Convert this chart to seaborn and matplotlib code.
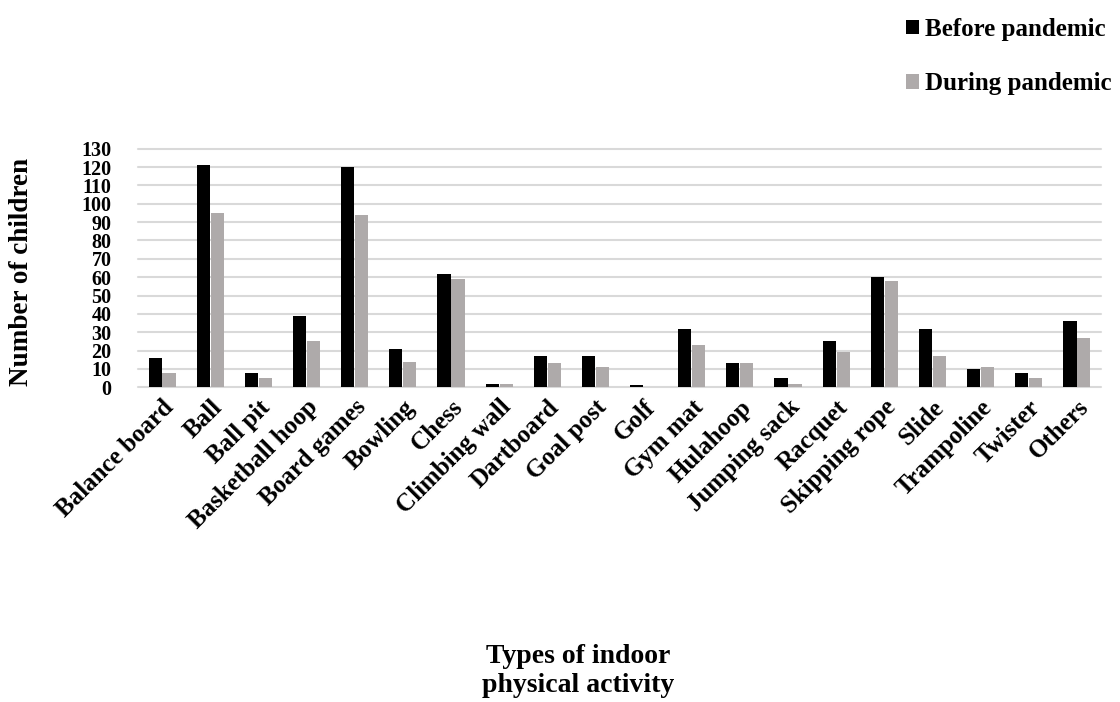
import matplotlib
matplotlib.use("Agg")
import matplotlib.pyplot as plt
import seaborn as sns
import pandas as pd

categories = ["Balance board", "Ball", "Ball pit", "Basketball hoop", "Board games",
              "Bowling", "Chess", "Climbing wall", "Dartboard", "Goal post", "Golf",
              "Gym mat", "Hulahoop", "Jumping sack", "Racquet", "Skipping rope",
              "Slide", "Trampoline", "Twister", "Others"]
before = [16, 121, 8, 39, 120, 21, 62, 2, 17, 17, 1, 32, 13, 5, 25, 60, 32, 10, 8, 36]
during = [8, 95, 5, 25, 94, 14, 59, 2, 13, 11, 0, 23, 13, 2, 19, 58, 17, 11, 5, 27]
series = ["Before pandemic", "During pandemic"]
yticks = list(range(0, 131, 10))

df = pd.DataFrame({
    "Activity": categories * 2,
    "Period": [series[0]] * len(categories) + [series[1]] * len(categories),
    "Count": before + during,
})

sns.set_theme(style="white")
plt.rcParams['font.family'] = ['Liberation Serif', 'DejaVu Serif']
plt.rcParams['font.weight'] = 'bold'
plt.rcParams['text.color'] = 'black'
plt.rcParams['xtick.color'] = 'black'
plt.rcParams['ytick.color'] = 'black'

fig = plt.figure(figsize=(11.2, 7.02), dpi=100)
ax = fig.add_axes([138/1120, 1-387.3/702, (1101-138)/1120, (387.3-148.7)/702])

sns.barplot(data=df, x="Activity", y="Count", hue="Period",
            palette=["#000000", "#aeaaaa"], width=0.58, gap=0.06,
            ax=ax, legend=True, saturation=1, linewidth=0)

ax.set_ylim(0, 130)
ax.set_yticks(yticks)
ax.set_yticklabels([str(t) for t in yticks], fontsize=14.5, fontweight='bold')
ax.yaxis.grid(True, color="#d9d9d9", linewidth=1.5)
ax.set_axisbelow(True)
for g in ax.get_ygridlines():
    g.set_clip_on(False)
for s in ax.spines.values():
    s.set_visible(False)
ax.tick_params(axis='both', length=0)
ax.set_xlim(-0.5, len(categories) - 0.5)
ax.set_xticks(range(len(categories)))
ax.set_xticklabels(categories, rotation=45, ha='right', rotation_mode='anchor',
                   fontsize=18, fontweight='bold')
ax.tick_params(axis='x', pad=6)
ax.tick_params(axis='y', pad=19)
ax.set_xlabel("")
ax.set_ylabel("")

ax.legend(loc='upper left', bbox_to_anchor=(896/1120, 1-8/702), bbox_transform=fig.transFigure,
          frameon=False, handlelength=0.5, handleheight=0.5,
          handletextpad=0.25, labelspacing=1.25, borderaxespad=0,
          prop={'weight': 'bold', 'size': 18})

fig.text(22/1120, 1-272/702, "Number of children", rotation=90, ha='center', va='center',
         fontsize=19.5, fontweight='bold')
fig.text(578/1120, 1-671/702, "Types of indoor\nphysical activity", ha='center', va='center',
         fontsize=20, fontweight='bold', linespacing=1.2)

fig.savefig("out.png", dpi=100)
